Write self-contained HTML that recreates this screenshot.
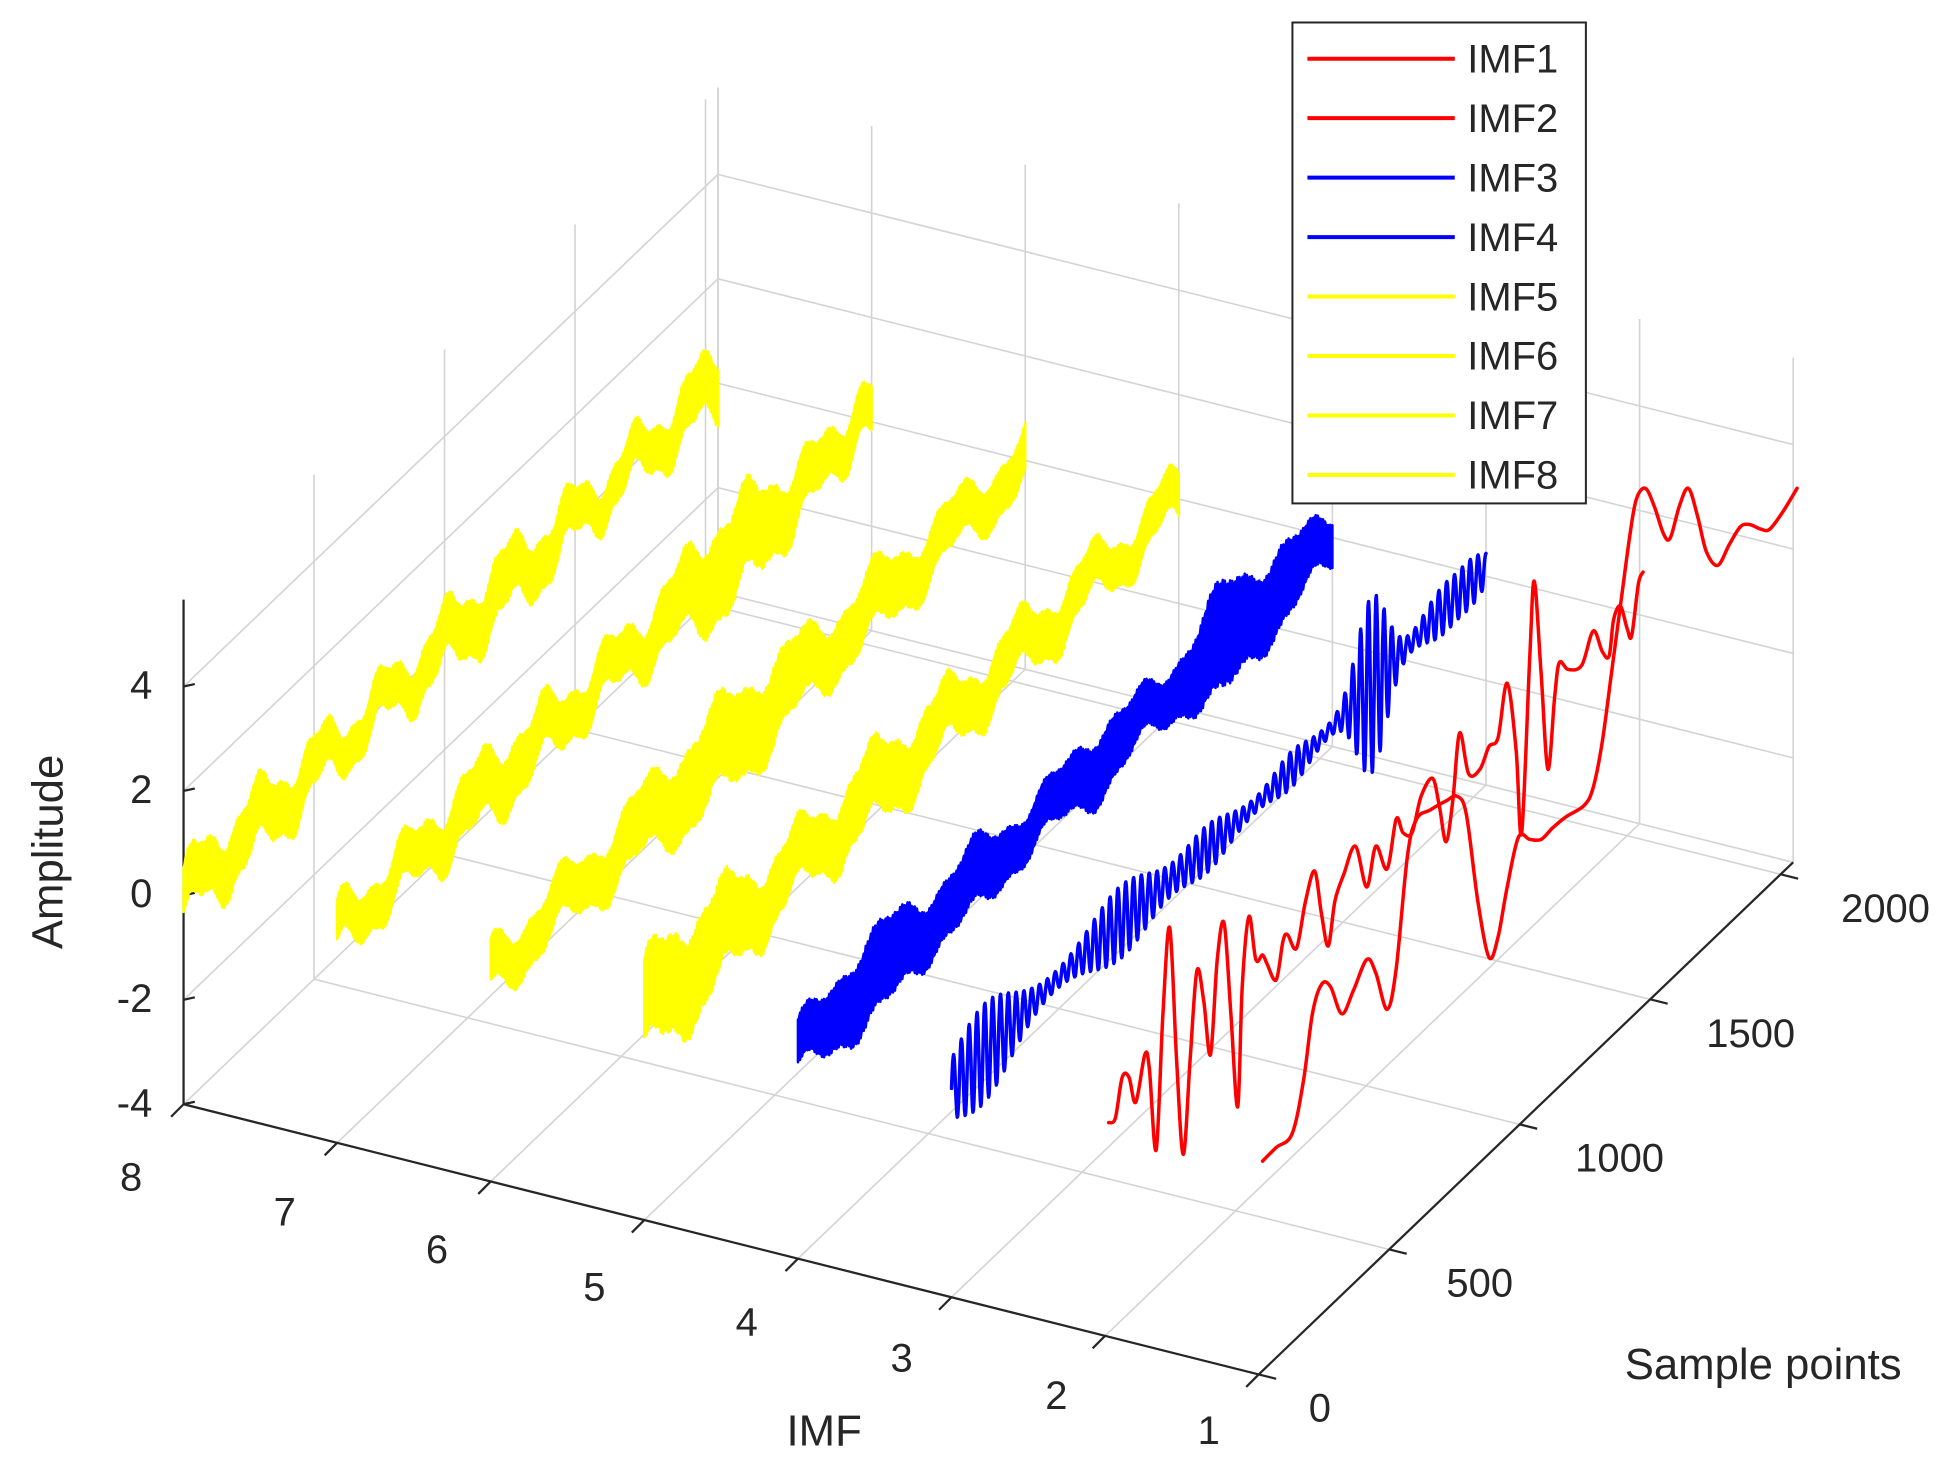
<!DOCTYPE html>
<html><head><meta charset="utf-8"><style>
html,body{margin:0;padding:0;background:#fff;}
svg{display:block;}
text{font-family:"Liberation Sans",Arial,sans-serif;fill:#262626;}
</style></head><body>
<svg id="c" width="1958" height="1474" viewBox="0 0 1568 1180" preserveAspectRatio="none" xmlns="http://www.w3.org/2000/svg">
<g id="grid" stroke="#d4d4d4" stroke-width="1.3" fill="none"></g>
<g id="axes" stroke="#262626" stroke-width="1.8" fill="none"></g>
<g id="series"></g>
<g font-size="32">
<text x="122" y="559" text-anchor="end">4</text>
<text x="122" y="643" text-anchor="end">2</text>
<text x="122" y="726" text-anchor="end">0</text>
<text x="122" y="810" text-anchor="end">-2</text>
<text x="122" y="894" text-anchor="end">-4</text>
<text x="105" y="953" text-anchor="middle">8</text>
<text x="228" y="981" text-anchor="middle">7</text>
<text x="350" y="1011" text-anchor="middle">6</text>
<text x="476" y="1041" text-anchor="middle">5</text>
<text x="598" y="1069" text-anchor="middle">4</text>
<text x="722" y="1098" text-anchor="middle">3</text>
<text x="846" y="1128" text-anchor="middle">2</text>
<text x="968" y="1156" text-anchor="middle">1</text>
<text x="1057" y="1138" text-anchor="middle">0</text>
<text x="1185" y="1038" text-anchor="middle">500</text>
<text x="1297" y="938" text-anchor="middle">1000</text>
<text x="1402" y="838" text-anchor="middle">1500</text>
<text x="1510" y="738" text-anchor="middle">2000</text>
<text x="660" y="1157" text-anchor="middle" font-size="35">IMF</text>
<text x="1412" y="1104" text-anchor="middle" font-size="35">Sample points</text>
<text transform="translate(50,682) rotate(-90)" text-anchor="middle" font-size="35">Amplitude</text>
</g>
<g id="legend">
<rect x="1035" y="18" width="235" height="385" fill="#fff" stroke="#262626" stroke-width="1.6"/>
</g>
</svg>
<script>
(function(){
var NS="http://www.w3.org/2000/svg";
function P(i,s,z){return [147+(8-i)*123+s/2048*428, 884+(8-i)*30.9-s/2048*410-(z+4)*41.8];}
function el(g,tag,a){var e=document.createElementNS(NS,tag);for(var k in a)e.setAttribute(k,a[k]);document.getElementById(g).appendChild(e);return e;}
function line(g,a,b,extra){var o={x1:a[0].toFixed(1),y1:a[1].toFixed(1),x2:b[0].toFixed(1),y2:b[1].toFixed(1)};if(extra)for(var k in extra)o[k]=extra[k];el(g,'line',o);}
var ZM=5.665,SM=2048;
var zs=[-4,-2,0,2,4];
[500,1000,1500,2000,SM].forEach(function(s){line('grid',P(8,s,-4),P(8,s,ZM));});
zs.forEach(function(z){line('grid',P(8,0,z),P(8,SM,z));});
for(var i=1;i<=8;i++) line('grid',P(i,SM,-4),P(i,SM,ZM));
zs.forEach(function(z){line('grid',P(8,SM,z),P(1,SM,z));});
for(var i=1;i<=7;i++) line('grid',P(i,0,-4),P(i,SM,-4));
[500,1000,1500,2000].forEach(function(s){line('grid',P(8,s,-4),P(1,s,-4));});
line('axes',P(8,0,-4),P(8,0,ZM));
line('axes',P(8,0,-4),P(1,0,-4));
line('axes',P(1,0,-4),P(1,SM,-4));
zs.forEach(function(z){var p=P(8,0,z);line('axes',p,[p[0]+9,p[1]-2]);});
for(var i=1;i<=8;i++){var p=P(i,0,-4);line('axes',p,[p[0]-10,p[1]+10]);}
[0,500,1000,1500,2000].forEach(function(s){var p=P(1,s,-4);line('axes',p,[p[0]+14,p[1]+3.5]);});
function g(s,c,w){return Math.exp(-((s-c)*(s-c))/(2*w*w));}
function band(i,slow,env,col){
  var up=[],lo=[];
  for(var s=0;s<=SM;s+=4){
    var m=slow(s),e=env(s)*(1+0.12*Math.sin(s*0.9));
    up.push(P(i,s,m+e));lo.push(P(i,s,m-e));
  }
  var d='M'+up.map(function(p){return p[0].toFixed(1)+','+p[1].toFixed(1);}).join('L')+'L'+lo.reverse().map(function(p){return p[0].toFixed(1)+','+p[1].toFixed(1);}).join('L')+'Z';
  el('series','path',{d:d,fill:col,stroke:col,'stroke-width':'2','stroke-linejoin':'round'});
}
function poly(pts,col,w){
  el('series','polyline',{points:pts.map(function(p){return p[0].toFixed(1)+','+p[1].toFixed(1);}).join(' '),fill:'none',stroke:col,'stroke-width':w,'stroke-linejoin':'round','stroke-linecap':'round'});
}
function smooth(pts,col,w){
  var d='M'+pts[0][0].toFixed(1)+','+pts[0][1].toFixed(1);
  for(var k=0;k<pts.length-1;k++){
    var p0=pts[Math.max(0,k-1)],p1=pts[k],p2=pts[k+1],p3=pts[Math.min(pts.length-1,k+2)];
    var c1=[p1[0]+(p2[0]-p0[0])/6,p1[1]+(p2[1]-p0[1])/6],c2=[p2[0]-(p3[0]-p1[0])/6,p2[1]-(p3[1]-p1[1])/6];
    d+='C'+c1[0].toFixed(1)+','+c1[1].toFixed(1)+' '+c2[0].toFixed(1)+','+c2[1].toFixed(1)+' '+p2[0].toFixed(1)+','+p2[1].toFixed(1);
  }
  el('series','path',{d:d,fill:'none',stroke:col,'stroke-width':w,'stroke-linejoin':'round','stroke-linecap':'round'});
}
var Y='#ffff00';
band(8,function(s){return 0.35*Math.sin(2*Math.PI*s/240+0.3)+0.12*Math.sin(2*Math.PI*s/90);},function(s){return 0.42+0.08*Math.sin(s/150);},Y);
band(7,function(s){return 0.3*Math.sin(2*Math.PI*s/260+1.2)+0.15*Math.sin(2*Math.PI*s/110)+0.5*g(s,2000,40);},function(s){return 0.38+0.4*g(s,1500,160)+0.15*g(s,600,150);},Y);
band(6,function(s){return 0.3*Math.sin(2*Math.PI*s/300+2)+0.12*Math.sin(2*Math.PI*s/120);},function(s){return 0.4+0.35*g(s,900,250)+0.1*g(s,1500,100);},Y);
band(5,function(s){return 0.35*Math.sin(2*Math.PI*s/280+0.8)+0.1*Math.sin(2*Math.PI*s/95);},function(s){return 0.45+0.4*g(s,150,200)+0.15*g(s,900,150)-0.1*g(s,1900,200);},Y);
var B='#0000ff';
band(4,function(s){return 0.2*Math.sin(2*Math.PI*s/320+1)+0.1*Math.sin(2*Math.PI*s/130);},function(s){return 0.36+0.35*g(s,300,150)+0.2*g(s,700,80)+0.55*g(s,1620,90)+0.3*g(s,1850,80)+0.2*g(s,1150,100);},B);
var p3=[];
for(var s=0;s<=SM;s+=2){
  var a=0.1+0.85*g(s,120,110)+0.6*g(s,650,110)+0.35*g(s,980,80)+0.25*g(s,1300,60)+1.6*g(s,1610,55)+0.35*g(s,1880,60)+0.3*g(s,2000,50);
  p3.push(P(3,s,0.15*Math.sin(s/250)+a*Math.sin(2*Math.PI*s/30)));
}
poly(p3,B,'2.8');
function zc(a){return a.map(function(q){return [q[0]*0.3627+876.9,q[1]*0.3627+376.4];});}
var r2=[[30,1440],[45,1430],[60,1340],[75,1340],[90,1395],[110,1290],[120,1320],[135,1500],[150,1200],[165,1010],[180,1300],[195,1510],[210,1300],[225,1105],[240,1170],[255,1290],[270,1080],[285,1000],[300,1200],[315,1405],[325,1140],[340,985],[355,1080],[370,1070],[380,1090],[400,1125],[415,1040],[425,1025],[445,1055],[465,950],[485,885],[500,980],[515,1050],[530,950],[550,890],[575,830],[600,920],[620,830],[645,880],[665,770],[680,800],[700,800],[720,720],[745,680],[760,740],[775,820],[790,730],[805,580],[825,670],[850,660],[870,610],[890,590],[910,470],[930,620],[942,800],[960,410],[970,245],[985,450],[1000,660],[1015,500],[1025,425],[1045,440],[1075,430],[1100,355],[1120,400],[1135,410],[1145,330],[1160,300],[1175,350],[1185,365],[1200,250],[1210,225]];
var r1=[[370,1525],[400,1495],[435,1465],[460,1350],[480,1200],[500,1135],[520,1140],[545,1200],[570,1150],[600,1080],[620,1110],[645,1190],[665,1100],[690,850],[710,770],[740,750],[775,730],[800,720],[820,760],[845,950],[870,1075],[890,1030],[910,920],[935,810],[960,815],[985,815],[1010,790],[1040,765],[1080,740],[1100,700],[1120,600],[1140,450],[1160,300],[1180,150],[1195,65],[1215,40],[1235,80],[1255,140],[1270,150],[1290,80],[1310,40],[1330,100],[1350,180],[1375,210],[1400,165],[1425,125],[1445,120],[1470,130],[1490,130],[1520,90],[1550,40]];
smooth(zc(r2),'#ff0000','2.8');
smooth(zc(r1),'#ff0000','2.8');
var cols=['#ff0000','#ff0000','#0000ff','#0000ff',Y,Y,Y,Y];
for(var k=0;k<8;k++){
  var y=47+k*47.6;
  el('legend','line',{x1:1047,y1:y,x2:1165,y2:y,stroke:cols[k],'stroke-width':'3.2'});
  var t=el('legend','text',{x:1175,y:y+11,'font-size':'32'});t.textContent='IMF'+(k+1);
}
})();
</script>
</body></html>
